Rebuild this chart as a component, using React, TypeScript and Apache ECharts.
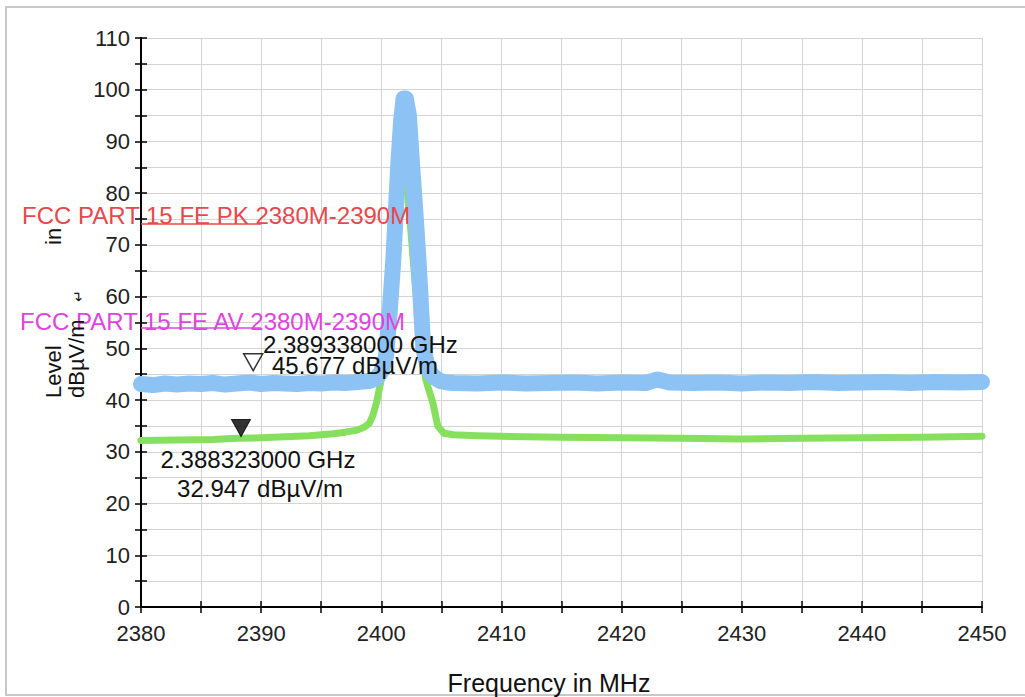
import React, { useEffect, useRef } from "react";
import * as echarts from "echarts";

// ---- data ----
const X_MIN = 2380;
const X_MAX = 2450;
const Y_MIN = 0;
const Y_MAX = 110;

// Peak detector trace (blue)
const peakFreq = [
  2380, 2381, 2382, 2383, 2384, 2385, 2386, 2387, 2388, 2389, 2390, 2391, 2392, 2393, 2394,
  2395, 2396, 2397, 2398, 2399, 2399.6, 2400.0, 2400.4, 2400.7, 2401.0, 2401.4, 2401.65,
  2401.85, 2402.05, 2402.3, 2402.55, 2402.85, 2403.1, 2403.5, 2403.9, 2404.3, 2404.9, 2405.5,
  2406, 2408, 2410, 2412, 2414, 2416, 2418, 2420, 2422, 2423, 2424, 2426, 2428, 2430,
  2432, 2434, 2436, 2438, 2440, 2442, 2444, 2446, 2448, 2450,
];
const peakLevel = [
  43.1, 42.9, 43.2, 43.0, 43.2, 43.1, 43.3, 43.0, 43.2, 43.4, 43.1, 43.3, 43.2, 43.1, 43.3,
  43.2, 43.4, 43.3, 43.5, 43.7, 44.2, 45.5, 48.5, 57.0, 67.0, 85.0, 94.0,
  98.3, 98.3, 95.0, 86.0, 76.0, 67.0, 50.0, 46.0, 44.6, 43.7, 43.4,
  43.3, 43.2, 43.4, 43.2, 43.3, 43.4, 43.2, 43.4, 43.3, 44.0, 43.4, 43.3, 43.4, 43.2,
  43.4, 43.3, 43.5, 43.3, 43.4, 43.5, 43.3, 43.5, 43.4, 43.5,
];

// Average detector trace (green)
const avgFreq = [
  2380, 2383, 2386, 2388, 2390, 2392, 2394, 2395, 2396, 2397, 2398, 2398.6, 2399.0,
  2399.3, 2399.6, 2400.0, 2400.4, 2400.8, 2401.2, 2401.6, 2401.85, 2402.1, 2402.4,
  2402.8, 2403.2, 2403.7, 2404.3, 2404.7, 2405.2, 2406, 2408, 2410, 2415, 2420, 2425,
  2430, 2435, 2440, 2445, 2450,
];
const avgLevel = [
  32.2, 32.3, 32.4, 32.6, 32.7, 32.9, 33.1, 33.3, 33.5, 33.8, 34.2, 34.8, 35.5,
  37.0, 39.5, 44.0, 52.0, 64.0, 75.0, 83.0, 85.0, 82.0, 74.5,
  63.0, 53.0, 44.0, 39.4, 35.0, 33.6, 33.3, 33.1, 33.0, 32.8, 32.7, 32.6,
  32.5, 32.6, 32.7, 32.8, 33.0,
];

// Limit lines
const limitNames = ["FCC PART 15 FE PK 2380M-2390M", "FCC PART 15 FE AV 2380M-2390M"];
const limitLevels = [74, 54];
const limitColors = ["#e8484c", "#e044e0"];
const limitStart = 2380;
const limitEnd = 2390;

// Markers
const markerFreqGHz = [2.389338, 2.388323];
const markerLevel = [45.677, 32.947];

const FONT = "'Liberation Sans', Arial, sans-serif";

const fmtGHz = (g: number) => g.toFixed(9) + " GHz";
const fmtLvl = (l: number) => l.toFixed(3) + " dBµV/m";

export default function App() {
  const ref = useRef<HTMLDivElement>(null);

  useEffect(() => {
    if (!ref.current) return;
    const chart = echarts.init(ref.current, undefined, { renderer: "svg" });

    const peakData = peakFreq.map((f, i) => [f, peakLevel[i]]);
    const avgData = avgFreq.map((f, i) => [f, avgLevel[i]]);

    const tickStyle = { color: "#000", width: 1.5 };

    const txt = (
      text: string,
      x: number,
      y: number,
      fill: string,
      size: number,
      align: string = "left",
      rotation = 0
    ) => ({
      type: "text",
      x,
      y,
      rotation,
      z: 100,
      silent: true,
      style: {
        text,
        fill,
        font: `${size}px ${FONT}`,
        align,
        textAlign: align,
        verticalAlign: "middle",
        textVerticalAlign: "middle",
      },
    });

    const option: any = {
      animation: false,
      backgroundColor: "#fff",
      grid: { left: 141, right: 43, top: 38, bottom: 90, containLabel: false },
      xAxis: [
        {
          type: "value",
          min: X_MIN,
          max: X_MAX,
          interval: 5,
          position: "bottom",
          axisLine: { show: true, onZero: false, lineStyle: { color: "#000", width: 2 } },
          axisTick: { show: true, length: 6, lineStyle: tickStyle },
          axisLabel: {
            formatter: (v: number) => (v % 10 === 0 ? String(v) : ""),
            fontSize: 22,
            fontFamily: FONT,
            color: "#222",
            margin: 15,
          },
          splitLine: { show: true, lineStyle: { color: "#d4d4d4", width: 1 } },
        },
        {
          type: "value",
          min: X_MIN,
          max: X_MAX,
          interval: 5,
          position: "bottom",
          axisLine: { show: false, onZero: false },
          axisTick: { show: true, inside: true, length: 6, lineStyle: tickStyle },
          axisLabel: { show: false },
          splitLine: { show: false },
        },
      ],
      yAxis: [
        {
          type: "value",
          min: Y_MIN,
          max: Y_MAX,
          interval: 5,
          position: "left",
          axisLine: { show: true, onZero: false, lineStyle: { color: "#000", width: 2 } },
          axisTick: { show: true, length: 6, lineStyle: tickStyle },
          axisLabel: {
            formatter: (v: number) => (v % 10 === 0 ? String(v) : ""),
            fontSize: 22,
            fontFamily: FONT,
            color: "#222",
            margin: 11,
          },
          splitLine: { show: true, lineStyle: { color: "#d4d4d4", width: 1 } },
        },
        {
          type: "value",
          min: Y_MIN,
          max: Y_MAX,
          interval: 5,
          position: "left",
          axisLine: { show: false, onZero: false },
          axisTick: { show: true, inside: true, length: 6, lineStyle: tickStyle },
          axisLabel: { show: false },
          splitLine: { show: false },
        },
      ],
      series: [
        {
          name: "AV",
          type: "line",
          data: avgData,
          showSymbol: false,
          symbol: "none",
          lineStyle: { color: "#86e05e", width: 7, join: "round", cap: "round" },
          z: 2,
          markLine: {
            silent: true,
            symbol: "none",
            label: { show: false },
            data: limitLevels.map((lv, i) => [
              { coord: [limitStart, lv], lineStyle: { color: limitColors[i], width: 1.5, type: "solid" } },
              { coord: [limitEnd, lv] },
            ]),
          },
        },
        {
          name: "PK",
          type: "line",
          data: peakData,
          showSymbol: false,
          symbol: "none",
          lineStyle: { color: "#8dc3f4", width: 16, join: "round", cap: "round" },
          z: 3,
        },
        {
          name: "markers",
          type: "scatter",
          data: [
            {
              value: [markerFreqGHz[0] * 1000, markerLevel[0]],
              itemStyle: { color: "#fff", borderColor: "#000", borderWidth: 1.5 },
            },
            {
              value: [markerFreqGHz[1] * 1000, markerLevel[1]],
              itemStyle: { color: "#000", borderColor: "#000", borderWidth: 1 },
            },
          ],
          symbol: "triangle",
          symbolRotate: 180,
          symbolSize: [19, 17],
          symbolOffset: [0, -8.5],
          z: 10,
          silent: true,
        },
      ],
      graphic: [
        {
          type: "rect",
          silent: true,
          z: 0,
          shape: { x: 6, y: 7, width: 1030, height: 688 },
          style: { fill: "none", stroke: "#c8c8c8", lineWidth: 2 },
        },
        txt(limitNames[0], 22, 215, limitColors[0], 24),
        txt(limitNames[1], 20, 321, limitColors[1], 24),
        txt(fmtGHz(markerFreqGHz[0]), 263, 344, "#111", 24),
        txt(fmtLvl(markerLevel[0]), 272, 365, "#111", 24),
        txt(fmtGHz(markerFreqGHz[1]), 258, 459, "#111", 24, "center"),
        txt(fmtLvl(markerLevel[1]), 260, 488, "#111", 24, "center"),
        txt("Level", 53, 398, "#111", 22, "left", Math.PI / 2),
        txt("in", 53, 245, "#111", 22, "left", Math.PI / 2),
        txt("dBµV/m", 76, 398, "#111", 22, "left", Math.PI / 2),
        txt("↵", 78, 302, "#111", 14, "left", Math.PI / 2),
        txt("Frequency in MHz", 549, 683, "#111", 25, "center"),
      ],
    };

    chart.setOption(option);
    return () => chart.dispose();
  }, []);

  return (
    <div
      ref={ref}
      style={{ position: "fixed", left: 0, top: 0, width: 1025, height: 697, background: "#fff" }}
    />
  );
}
